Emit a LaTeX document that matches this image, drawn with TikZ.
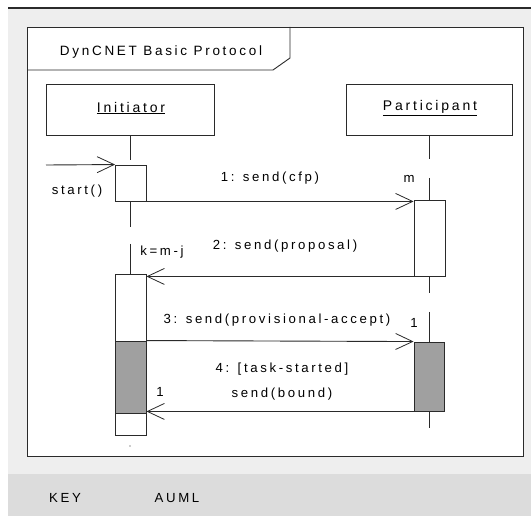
\documentclass[tikz,border=0pt]{standalone}
\usepackage{fontspec}
\setmainfont{Liberation Sans}
\newfontfamily\lsf[LetterSpace=20]{Liberation Sans}
\usetikzlibrary{arrows.meta}
\definecolor{bggray}{HTML}{EEEEEE}
\definecolor{keygray}{HTML}{DCDCDC}
\definecolor{actgray}{HTML}{A0A0A0}
\definecolor{ln}{HTML}{2A2A2A}
\tikzset{
  txt/.style={font=\lsf\fontsize{13.2}{15}\selectfont, inner sep=0pt, text=black},
  ttl/.style={font=\lsf\fontsize{13.5}{16}\selectfont, inner sep=0pt, text=black},
  lbl/.style={font=\lsf\fontsize{14}{16}\selectfont, inner sep=0pt, text=black},
  lifebox/.style={draw=ln, line width=0.9pt, fill=white, inner sep=0pt},
  act/.style={draw=ln, line width=0.9pt, fill=white, inner sep=0pt},
  actg/.style={draw=ln, line width=0.9pt, fill=actgray, inner sep=0pt},
  life/.style={draw=ln, line width=0.9pt},
  msg/.style={draw=ln, line width=0.9pt, -{Straight Barb[length=17pt,width=16pt,line width=0.8pt]}},
}
\begin{document}
\begin{tikzpicture}[x=1pt,y=-1pt]
\useasboundingbox (0,0) rectangle (531,516);
% background
\fill[white] (0,0) rectangle (531,516);
\fill[bggray] (8,8) rectangle (531,516);
\draw[ln, line width=1.2pt] (8,8) -- (531,8);
\fill[keygray] (8,474) rectangle (531,516);
% frame
\fill[white] (27,27) rectangle (523,456);
\draw[gray, line width=1.5pt] (523.5,27) -- (523.5,456.5);
\draw[ln, line width=0.9pt] (27,27) rectangle (523,456);
% tab
\draw[ln, line width=0.9pt] (27,70) -- (273,70) -- (290,58) -- (290,27);
\node[ttl] (title) at (161,52) {DynCNET Basic Protocol};
% lifeline heads
\node[lifebox, minimum width=168pt, minimum height=51pt] (ini) at (130,109.5) {};
\node[lbl] (initxt) at (131,108) {\underline{Initiator}};
\node[lifebox, minimum width=166pt, minimum height=51pt] (par) at (429,109.5) {};
\node[lbl] (partxt) at (430,108) {\underline{Participant}};
% activations
\node[act, minimum width=30.5pt, minimum height=36pt] (a1) at (130.75,183) {};
\node[act, minimum width=30.5pt, minimum height=161pt] (a2) at (130.75,354.5) {};
\node[actg, minimum width=30.5pt, minimum height=72pt] (g2) at (130.75,377) {};
\node[act, minimum width=31pt, minimum height=76pt] (a3) at (429.5,238) {};
\node[actg, minimum width=30pt, minimum height=69pt] (a4) at (429,376.5) {};
% lifelines
\coordinate (i1) at (130,160);
\coordinate (i2) at (130,227);
\coordinate (i3) at (130,244);
\coordinate (p1) at (429,159);
\coordinate (p2) at (429,178);
\coordinate (p3) at (429,293);
\coordinate (p4) at (429,312);
\coordinate (p5) at (429,428);
\draw[life] (ini.south) -- (i1);
\draw[life] (a1.south -| i1) -- (i2);
\draw[life] (i3) -- (a2.north -| i3);
\draw[life] (par.south -| p1) -- (p1);
\draw[life] (p2) -- (a3.north -| p2);
\draw[life] (a3.south -| p3) -- (p3);
\draw[life] (p4) -- (a4.north -| p4);
\draw[life] (a4.south -| p5) -- (p5);
\fill[ln] (130,446) circle (0.6pt);
% messages
\coordinate (st) at (46,165);
\draw[msg] (st) -- (a1.north west);
\node[txt] (lst) at (77,191) {start()};
\draw[msg] (a1.south east) -- (a3.south west |- a1.south east);
\node[txt] (l1) at (270,178) {1: send(cfp)};
\node[txt] (lm) at (409,179) {m};
\draw[msg] (a3.south west) -- (a2.north east |- a3.south west);
\node[txt] (l2) at (285,246) {2: send(proposal)};
\node[txt] (lk) at (162,252) {k=m-j};
\draw[msg] (g2.north east) -- (a4.north west);
\node[txt] (l3) at (277,320) {3: send(provisional-accept)};
\node[txt] (l3n) at (414,323) {1};
\draw[msg] (a4.south west) -- (g2.south east |- a4.south west);
\node[txt] (l4a) at (282,369) {4: [task-started]};
\node[txt] (l4b) at (282,394) {send(bound)};
\node[txt] (l4n) at (160,392) {1};
% key
\node[txt] (key) at (65,498) {KEY};
\node[txt] (auml) at (177,498) {AUML};
\end{tikzpicture}
\end{document}
